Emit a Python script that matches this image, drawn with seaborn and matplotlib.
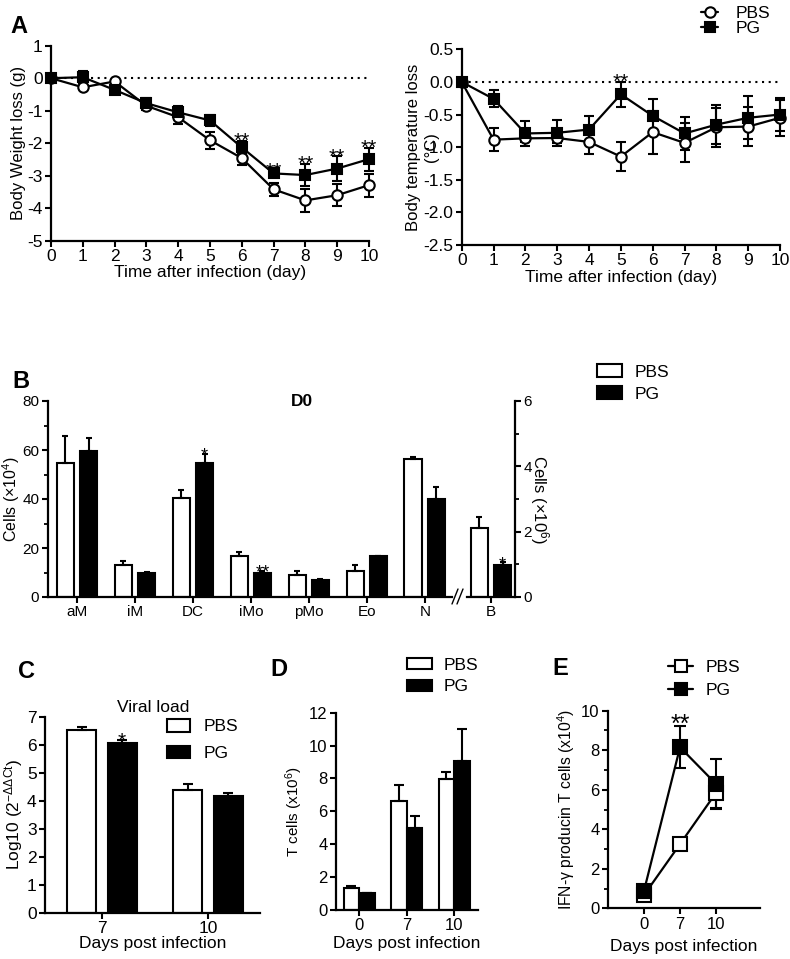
import matplotlib
matplotlib.use("Agg")
import matplotlib.pyplot as plt
from matplotlib.lines import Line2D
from matplotlib.patches import Patch
from matplotlib.ticker import MultipleLocator, FormatStrFormatter
import numpy as np
import pandas as pd
import seaborn as sns

# ---------------- data ----------------
groups = ["PBS", "PG"]

# Panel A (left): body weight loss (g)
days = [0, 1, 2, 3, 4, 5, 6, 7, 8, 9, 10]
weight_pbs = [0, -0.28, -0.10, -0.85, -1.20, -1.91, -2.46, -3.42, -3.76, -3.60, -3.29]
weight_pbs_err = [0, 0.05, 0.05, 0.12, 0.20, 0.27, 0.20, 0.20, 0.35, 0.33, 0.35]
weight_pg = [0, 0.03, -0.36, -0.77, -1.05, -1.30, -2.13, -2.93, -2.98, -2.78, -2.49]
weight_pg_err = [0, 0.19, 0.08, 0.15, 0.18, 0.17, 0.20, 0.10, 0.35, 0.38, 0.35]
weight_sig = ["", "", "", "", "", "", "**", "**", "**", "**", "**"]

# Panel A (right): body temperature loss (°C)
temp_pbs = [0, -0.885, -0.865, -0.86, -0.92, -1.145, -0.77, -0.935, -0.695, -0.685, -0.55]
temp_pbs_err = [0, 0.18, 0.06, 0.07, 0.18, 0.22, 0.33, 0.30, 0.30, 0.30, 0.28]
temp_pg = [0, -0.26, -0.79, -0.78, -0.73, -0.19, -0.52, -0.79, -0.655, -0.55, -0.50]
temp_pg_err = [0, 0.13, 0.19, 0.20, 0.21, 0.19, 0.26, 0.25, 0.30, 0.33, 0.25]
temp_sig = ["", "", "", "", "", "**", "", "", "", "", ""]

# Panel B: D0 cell counts (x10^4), plus B cells (x10^6)
cell_types = ["aM", "iM", "DC", "iMo", "pMo", "Eo", "N"]
cells_pbs = [54.8, 13.2, 40.4, 16.9, 8.8, 10.6, 56.2]
cells_pbs_err = [10.9, 1.6, 3.1, 1.6, 1.8, 2.5, 0.8]
cells_pg = [59.6, 9.8, 54.7, 9.8, 7.1, 16.6, 39.9]
cells_pg_err = [5.4, 0.4, 3.8, 0.9, 0.2, 0.3, 5.1]
cells_sig = ["", "", "*", "**", "", "", ""]
bcell_type = ["B"]
bcell_pbs = [2.12]
bcell_pbs_err = [0.34]
bcell_pg = [0.97]
bcell_pg_err = [0.10]
bcell_sig = ["*"]

# Panel C: viral load
viral_days = ["7", "10"]
viral_pbs = [6.52, 4.40]
viral_pbs_err = [0.10, 0.18]
viral_pg = [6.07, 4.18]
viral_pg_err = [0.10, 0.08]
viral_sig = ["*", ""]

# Panel D: T cells (x10^6)
tcell_days = ["0", "7", "10"]
tcell_pbs = [1.32, 6.63, 7.99]
tcell_pbs_err = [0.16, 0.97, 0.39]
tcell_pg = [1.01, 4.99, 9.09]
tcell_pg_err = [0.05, 0.71, 1.94]

# Panel E: IFN-gamma producing T cells (x10^4)
ifn_days = ["0", "7", "10"]
ifn_pbs = [0.67, 3.25, 5.85]
ifn_pbs_err = [0.10, 0.15, 0.75]
ifn_pg = [0.89, 8.15, 6.29]
ifn_pg_err = [0.10, 1.07, 1.25]
ifn_sig = ["", "**", ""]

# ---------------- style ----------------
sns.set_style("ticks")
plt.rcParams["font.family"] = ["Liberation Sans", "DejaVu Sans"]
plt.rcParams["axes.unicode_minus"] = False
plt.rcParams["mathtext.fontset"] = "custom"
plt.rcParams["mathtext.rm"] = "Liberation Sans"
plt.rcParams["mathtext.it"] = "Liberation Sans:italic"
plt.rcParams["mathtext.bf"] = "Liberation Sans:bold"
plt.rcParams["text.color"] = "black"
plt.rcParams["axes.labelcolor"] = "black"

W, H = 790, 959
fig = plt.figure(figsize=(W / 100, H / 100), dpi=100)


def px_axes(x0, y0, x1, y1):
    return fig.add_axes([x0 / W, 1 - y1 / H, (x1 - x0) / W, (y1 - y0) / H])


def style(ax, labelsize):
    sns.despine(ax=ax)
    for s in ax.spines.values():
        s.set_linewidth(1.6)
        s.set_color("black")
    ax.tick_params(which="major", direction="out", length=4, width=1.5,
                   labelsize=labelsize, colors="black", pad=2)
    ax.tick_params(which="minor", direction="out", length=3, width=1.3, colors="black")
    ax.set_facecolor("none")


def noclip(container):
    for art in container.get_children():
        art.set_clip_on(False)


def line_panel(ax, x, pbs, pbs_err, pg, pg_err, markers, ms, sig, capsize, sigsize, sigoff):
    n = len(x)
    df = pd.DataFrame({"x": list(x) * 2, "y": pbs + pg,
                       "group": ["PBS"] * n + ["PG"] * n})
    for g, vals, errs in (("PBS", pbs, pbs_err), ("PG", pg, pg_err)):
        eb = ax.errorbar(x, vals, yerr=errs, fmt="none", ecolor="black",
                         elinewidth=1.5, capsize=capsize, capthick=1.5, zorder=1.5)
        noclip(eb)
    sns.lineplot(data=df, x="x", y="y", hue="group", style="group",
                 hue_order=groups, style_order=groups, markers=markers,
                 dashes=False, palette={"PBS": "black", "PG": "black"},
                 markersize=ms, linewidth=1.6, markeredgewidth=1.5,
                 markeredgecolor="black", legend=False, errorbar=None,
                 sort=False, ax=ax)
    ax.lines[-2].set_markerfacecolor("white")
    for ln in ax.lines:
        ln.set_clip_on(False)
    for xi, v, e, s in zip(x, pg, pg_err, sig):
        if s:
            ax.annotate(s, (xi, v + e), xytext=(0, sigoff), textcoords="offset points",
                        ha="center", va="baseline", fontsize=sigsize)


def bar_panel(ax, cats, pbs, pbs_err, pg, pg_err, width, gap, capsize, sig=None,
              sigsize=11, sigoff=-4):
    n = len(cats)
    df = pd.DataFrame({"cat": cats * 2, "val": pbs + pg,
                       "group": ["PBS"] * n + ["PG"] * n})
    sns.barplot(data=df, x="cat", y="val", hue="group", hue_order=groups,
                palette={"PBS": "white", "PG": "black"}, saturation=1,
                edgecolor="black", linewidth=1.5, width=width, gap=gap,
                errorbar=None, legend=False, ax=ax)
    for cont, errs in zip(ax.containers, (pbs_err, pg_err)):
        xs = [p.get_x() + p.get_width() / 2 for p in cont]
        ys = [p.get_height() for p in cont]
        ax.errorbar(xs, ys, yerr=[np.zeros(len(errs)), errs], fmt="none",
                    ecolor="black", elinewidth=1.5, capsize=capsize, capthick=1.5, zorder=3)
    if sig:
        cont = ax.containers[1]
        for p, e, s in zip(cont, pg_err, sig):
            if s:
                ax.annotate(s, (p.get_x() + p.get_width() / 2, p.get_height() + e),
                            xytext=(0, sigoff), textcoords="offset points",
                            ha="center", va="baseline", fontsize=sigsize, zorder=5)


# ---------------- Panel A left ----------------
axA1 = px_axes(51, 45.7, 369, 240.7)
style(axA1, 12.5)
axA1.axhline(0, color="black", lw=1.5, ls=(0, (1, 2.2)), zorder=1)
line_panel(axA1, days, weight_pbs, weight_pbs_err, weight_pg, weight_pg_err,
           {"PBS": "o", "PG": "s"}, 7.5, weight_sig, 3.5, 15, -4.5)
axA1.set_xlim(0, 10)
axA1.set_ylim(-5, 1)
axA1.xaxis.set_major_locator(MultipleLocator(1))
axA1.yaxis.set_major_locator(MultipleLocator(1))
axA1.set_xlabel("Time after infection (day)", fontsize=12.5, labelpad=1)
axA1.set_ylabel("Body Weight loss (g)", fontsize=12, labelpad=1)

# ---------------- Panel A right ----------------
axA2 = px_axes(461.7, 49.3, 780, 245)
style(axA2, 12.5)
axA2.axhline(0, color="black", lw=1.5, ls=(0, (1, 2.2)), zorder=1)
line_panel(axA2, days, temp_pbs, temp_pbs_err, temp_pg, temp_pg_err,
           {"PBS": "o", "PG": "s"}, 7.5, temp_sig, 3.5, 15, -4.5)
axA2.set_xlim(0, 10)
axA2.set_ylim(-2.5, 0.5)
axA2.xaxis.set_major_locator(MultipleLocator(1))
axA2.yaxis.set_major_locator(MultipleLocator(0.5))
axA2.yaxis.set_major_formatter(FormatStrFormatter("%.1f"))
axA2.set_xlabel("Time after infection (day)", fontsize=12.5, labelpad=1)
axA2.set_ylabel("Body temperature loss\n(°C)", fontsize=12, linespacing=1.3)
axA2.yaxis.set_label_coords(-0.07, 0.5)

hA = [Line2D([], [], color="black", marker="o", mfc="white", mec="black", ms=7.5, mew=1.5, lw=1.6),
      Line2D([], [], color="black", marker="s", mfc="black", mec="black", ms=7, mew=1.5, lw=1.6)]
fig.legend(hA, groups, loc="center left", bbox_to_anchor=(701 / W, 1 - 21 / H),
           frameon=False, fontsize=12.5, handlelength=1.0, handletextpad=1.0,
           labelspacing=0.0, borderpad=0, borderaxespad=0)

# ---------------- Panel B ----------------
axB1 = px_axes(47.5, 401, 452, 597)
style(axB1, 11)
bar_panel(axB1, cell_types, cells_pbs, cells_pbs_err, cells_pg, cells_pg_err,
          0.8, 0.25, 2.5, cells_sig, 13, -5)
axB1.set_xlim(-0.51, 6.47)
axB1.set_ylim(0, 80)
axB1.yaxis.set_major_locator(MultipleLocator(20))
axB1.yaxis.set_minor_locator(MultipleLocator(10))
axB1.set_xlabel("")
axB1.set_ylabel("Cells (×10$^{4}$)", fontsize=11.5)
axB1.yaxis.set_label_coords(-0.064, 0.5)

axB2 = px_axes(467, 401, 515, 597)
bar_panel(axB2, bcell_type, bcell_pbs, bcell_pbs_err, bcell_pg, bcell_pg_err,
          0.8, 0.25, 2.5, bcell_sig, 13, -5)
style(axB2, 11)
axB2.spines["left"].set_visible(False)
axB2.spines["right"].set_visible(True)
axB2.yaxis.set_ticks_position("right")
axB2.yaxis.set_label_position("right")
axB2.set_xlim(-0.414, 0.414)
axB2.set_ylim(0, 6)
axB2.yaxis.set_major_locator(MultipleLocator(2))
axB2.yaxis.set_minor_locator(MultipleLocator(1))
axB2.set_xlabel("")
axB2.set_ylabel("Cells (×10$^{6}$)", fontsize=12, rotation=270, labelpad=14)

for xo in (0, 5):
    fig.add_artist(Line2D([(452 + xo) / W, (458 + xo) / W], [1 - 604 / H, 1 - 589 / H],
                          color="black", lw=1.0))
fig.text(302 / W, 1 - 402 / H, "D0", ha="center", va="center",
         fontsize=12.5, fontweight="bold")

hBar = [Patch(facecolor="white", edgecolor="black", lw=1.5),
        Patch(facecolor="black", edgecolor="black", lw=1.5)]
fig.legend(hBar, groups, loc="center left", bbox_to_anchor=(597 / W, 1 - 383 / H),
           frameon=False, fontsize=12.5, handlelength=1.45, handleheight=0.7,
           handletextpad=0.7, labelspacing=0.4, borderpad=0, borderaxespad=0)

# ---------------- Panel C ----------------
axC = px_axes(45, 716.7, 260, 912.7)
style(axC, 12.5)
bar_panel(axC, viral_days, viral_pbs, viral_pbs_err, viral_pg, viral_pg_err,
          0.76, 0.28, 3.5, viral_sig, 15, -5)
axC.set_xlim(-0.538, 1.49)
axC.set_ylim(0, 7)
axC.yaxis.set_major_locator(MultipleLocator(1))
axC.set_xlabel("Days post infection", fontsize=12.5, labelpad=0)
axC.set_ylabel("Log10 (2$^{\\mathregular{-ΔΔCt}}$)", fontsize=12.5)
axC.yaxis.set_label_coords(-0.093, 0.5)
fig.text(153 / W, 1 - 707 / H, "Viral load", ha="center", va="center", fontsize=12.5)
fig.legend(hBar, groups, loc="center left", bbox_to_anchor=(167 / W, 1 - 740 / H),
           frameon=False, fontsize=12.5, handlelength=1.35, handleheight=0.75,
           handletextpad=0.75, labelspacing=0.65, borderpad=0, borderaxespad=0)

# ---------------- Panel D ----------------
axD = px_axes(336, 712.7, 478, 910)
style(axD, 12)
bar_panel(axD, tcell_days, tcell_pbs, tcell_pbs_err, tcell_pg, tcell_pg_err,
          0.66, 0.0, 3.5)
axD.set_xlim(-0.49, 2.5)
axD.set_ylim(0, 12)
axD.yaxis.set_major_locator(MultipleLocator(2))
axD.set_xlabel("Days post infection", fontsize=12.5, labelpad=2)
axD.set_ylabel("T cells (x10$^{6}$)", fontsize=11, labelpad=3)
fig.legend(hBar, groups, loc="center left", bbox_to_anchor=(407 / W, 1 - 676 / H),
           frameon=False, fontsize=12.5, handlelength=1.45, handleheight=0.6,
           handletextpad=0.65, labelspacing=0.4, borderpad=0, borderaxespad=0)

# ---------------- Panel E ----------------
axE = px_axes(608, 710.7, 760, 908.3)
style(axE, 12)
ifn_pos = list(range(len(ifn_days)))
line_panel(axE, ifn_pos, ifn_pbs, ifn_pbs_err, ifn_pg, ifn_pg_err,
           {"PBS": "s", "PG": "s"}, 10, ifn_sig, 4.5, 18, -4)
axE.set_xticks(ifn_pos)
axE.set_xticklabels(ifn_days)
axE.set_xlim(-1, 3.22)
axE.set_ylim(0, 10)
axE.yaxis.set_major_locator(MultipleLocator(2))
axE.yaxis.set_minor_locator(MultipleLocator(1))
axE.set_xlabel("Days post infection", fontsize=12.5, labelpad=5)
axE.set_ylabel("IFN-γ producin T cells (x10$^{4}$)", fontsize=11.3, labelpad=3)
hE = [Line2D([], [], color="black", marker="s", mfc="white", mec="black", ms=9, mew=1.5, lw=1.6),
      Line2D([], [], color="black", marker="s", mfc="black", mec="black", ms=9, mew=1.5, lw=1.6)]
fig.legend(hE, groups, loc="center left", bbox_to_anchor=(668 / W, 1 - 679 / H),
           frameon=False, fontsize=12.5, handlelength=1.45, handletextpad=0.7,
           labelspacing=0.45, borderpad=0, borderaxespad=0)

# ---------------- panel letters ----------------
for lab, x, y in (("A", 10, 15), ("B", 12, 370), ("C", 18, 660), ("D", 270, 658), ("E", 552, 657)):
    fig.text(x / W, 1 - y / H, lab, ha="left", va="top", fontsize=17, fontweight="bold")

fig.savefig("out.png", dpi=100)
